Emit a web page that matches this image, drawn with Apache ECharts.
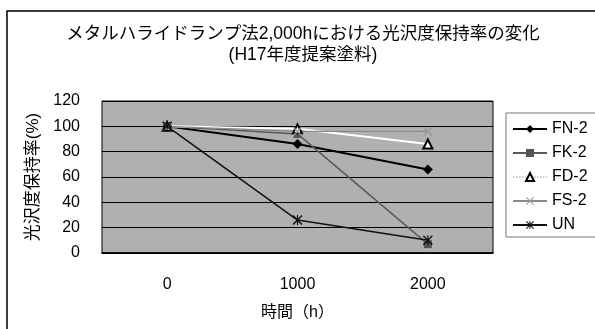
<!DOCTYPE html>
<html>
<head>
<meta charset="utf-8">
<script src="https://cdn.jsdelivr.net/npm/echarts@6/dist/echarts.min.js"></script>
<style>
  html, body { margin: 0; padding: 0; background: #fff; }
  #chart { width: 595px; height: 329px; }
</style>
</head>
<body>
<div id="chart"></div>
<script>
// Elapsed hours (category axis)
const hours = ['0', '1000', '2000'];

// Gloss retention (%) per coating
const fn2 = [100, 86, 66];
const fk2 = [100, 94, 7];
const fd2 = [100, 98, 86];
const fs2 = [100, 96, 96];
const un  = [100, 26, 10];

const yTicks = { min: 0, max: 120, interval: 20 };

const FONT = '"Liberation Sans", "Noto Sans CJK JP", sans-serif';
const XMARK = 'path://M0,1L1,0L5,4L9,0L10,1L6,5L10,9L9,10L5,6L1,10L0,9L4,5Z';
const STAR = 'path://M0,1L1,0L4.4,3.4L4.4,0L5.6,0L5.6,3.4L9,0L10,1L6,5L10,9L9,10L5.6,6.6L5.6,10L4.4,10L4.4,6.6L1,10L0,9L4,5Z';

const chart = echarts.init(document.getElementById('chart'), null, { renderer: 'canvas' });

chart.setOption({
  animation: false,
  backgroundColor: '#fff',
  textStyle: { fontFamily: FONT },
  title: {
    text: 'メタルハライドランプ法2,000hにおける光沢度保持率の変化\n(H17年度提案塗料)',
    left: 298,
    textAlign: 'center',
    top: 19,
    textStyle: { fontSize: 17.5, fontWeight: 'normal', color: '#000', lineHeight: 21, fontFamily: FONT }
  },
  graphic: [{
    type: 'rect',
    shape: { x: 7, y: 11, width: 620, height: 400 },
    style: { fill: 'none', stroke: '#000', lineWidth: 1.5 },
    silent: true,
    z: 100
  }],
  grid: {
    left: 102, top: 101, width: 391, height: 152,
    show: true,
    backgroundColor: '#b0b0b0',
    borderColor: '#000',
    borderWidth: 1
  },
  legend: {
    orient: 'vertical',
    left: 506, top: 113,
    padding: [8, 40, 4, 6],
    itemGap: 8,
    itemWidth: 34,
    itemHeight: 10,
    backgroundColor: '#fff',
    borderColor: '#777',
    borderWidth: 1,
    textStyle: { fontSize: 16, color: '#000', fontFamily: FONT },
    data: [
      'FN-2',
      'FK-2',
      { name: 'FD-2', lineStyle: { color: '#bbb', type: 'dotted', width: 1.5 } },
      'FS-2',
      'UN'
    ]
  },
  xAxis: {
    type: 'category',
    data: hours,
    boundaryGap: true,
    name: '時間（h）',
    nameLocation: 'middle',
    nameGap: 52,
    nameTextStyle: { fontSize: 16, color: '#000', fontFamily: FONT },
    axisLine: { lineStyle: { color: '#000', width: 1.5 } },
    axisTick: { inside: true, length: 5, lineStyle: { color: '#000' } },
    axisLabel: { fontSize: 16, color: '#000', margin: 24, fontFamily: FONT }
  },
  yAxis: {
    type: 'value',
    min: yTicks.min, max: yTicks.max, interval: yTicks.interval,
    name: '光沢度保持率(%)',
    nameLocation: 'middle',
    nameRotate: 90,
    nameGap: 60,
    nameTextStyle: { fontSize: 17, color: '#000', fontFamily: FONT },
    axisLine: { show: false },
    axisTick: { show: false },
    axisLabel: { fontSize: 16, color: '#000', margin: 22, fontFamily: FONT },
    splitLine: { lineStyle: { color: '#000', width: 1 } }
  },
  series: [
    {
      name: 'FN-2', type: 'line', data: fn2,
      symbol: 'diamond', symbolSize: 10,
      lineStyle: { color: '#000', width: 2 },
      itemStyle: { color: '#000' }
    },
    {
      name: 'FK-2', type: 'line', data: fk2,
      symbol: 'rect', symbolSize: 8,
      lineStyle: { color: '#5a5a5a', width: 1.5 },
      itemStyle: { color: '#555' }
    },
    {
      name: 'FD-2', type: 'line', data: fd2,
      symbol: 'triangle', symbolSize: 9,
      lineStyle: { color: '#fff', width: 2 },
      itemStyle: { color: '#fff', borderColor: '#000', borderWidth: 2 }
    },
    {
      name: 'FS-2', type: 'line', data: fs2,
      symbol: XMARK, symbolSize: 10,
      lineStyle: { color: '#8a8a8a', width: 1.2 },
      itemStyle: { color: '#999' }
    },
    {
      name: 'UN', type: 'line', data: un,
      symbol: STAR, symbolSize: 10,
      lineStyle: { color: '#111', width: 1.5 },
      itemStyle: { color: '#111' }
    }
  ]
});
</script>
</body>
</html>
